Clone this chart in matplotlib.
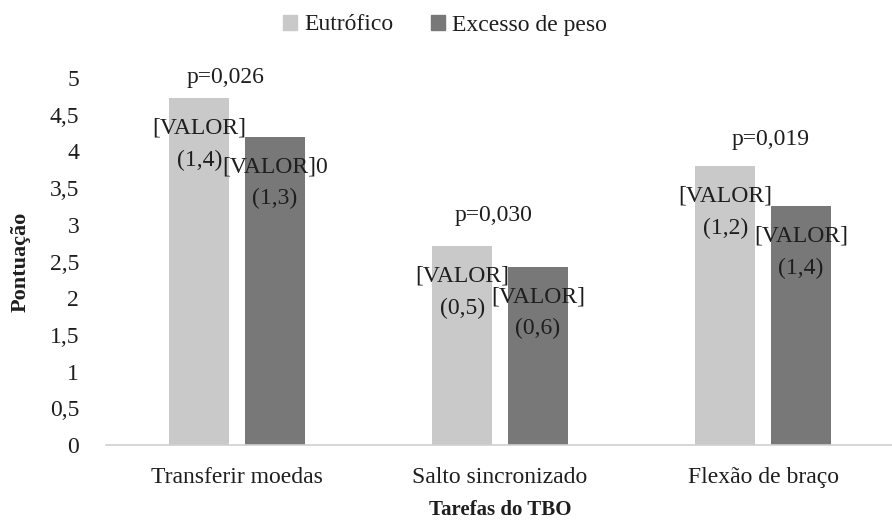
import matplotlib
matplotlib.use("Agg")
import matplotlib.pyplot as plt
import numpy as np
from matplotlib.patches import Patch

plt.rcParams['font.family'] = ['Liberation Serif', 'DejaVu Serif']

# Data
tarefas = ["Transferir moedas", "Salto sincronizado", "Flexão de braço"]
grupos = ["Eutrófico", "Excesso de peso"]
eutrofico = [4.72, 2.71, 3.80]
excesso = [4.20, 2.43, 3.25]
rotulo_eutrofico = ["[VALOR]", "[VALOR]", "[VALOR]"]
rotulo_excesso = ["[VALOR]0", "[VALOR]", "[VALOR]"]
dp_eutrofico = ["(1,4)", "(0,5)", "(1,2)"]
dp_excesso = ["(1,3)", "(0,6)", "(1,4)"]
p_valores = ["p=0,026", "p=0,030", "p=0,019"]
y_ticks = [0, 0.5, 1, 1.5, 2, 2.5, 3, 3.5, 4, 4.5, 5]

# Layout / style
cor_eut = "#c9c9c9"
cor_exc = "#787878"
cor_texto = "#1e1e1e"
largura = 0.228
desloc = 0.1435
p_pos = [(-0.042, 5.01), (0.977, 3.13), (2.03, 4.16)]

fig = plt.figure(figsize=(8.92, 5.23), dpi=100)
ax = fig.add_axes([0.1183, 0.149, 0.8847, 0.702])

x = np.arange(len(tarefas))
b1 = ax.bar(x - desloc, eutrofico, largura, color=cor_eut, zorder=2)
b2 = ax.bar(x + desloc, excesso, largura, color=cor_exc, zorder=2)

fs = 17
for bars, vals, rot, dps in [(b1, eutrofico, rotulo_eutrofico, dp_eutrofico),
                             (b2, excesso, rotulo_excesso, dp_excesso)]:
    for rect, v, r, d in zip(bars, vals, rot, dps):
        cx = rect.get_x() + rect.get_width() / 2
        ax.annotate(r, xy=(cx, v), xytext=(0, -30), textcoords="offset pixels",
                    ha="center", va="center", fontsize=fs, color=cor_texto, zorder=3)
        ax.annotate(d, xy=(cx, v), xytext=(0, -62), textcoords="offset pixels",
                    ha="center", va="center", fontsize=fs, color=cor_texto, zorder=3)

for txt, (px, py) in zip(p_valores, p_pos):
    ax.text(px, py, txt, ha="center", va="center", fontsize=fs, color=cor_texto)

ax.set_xlim(-0.5, 2.5)
ax.set_ylim(0, 5)
ax.set_yticks(y_ticks)
ax.set_yticklabels([f"{t:g}".replace(".", ",") for t in y_ticks])
ax.set_xticks(x)
ax.set_xticklabels(tarefas)
ax.tick_params(axis="both", length=0, labelsize=fs, colors=cor_texto)
ax.tick_params(axis="y", pad=19)
ax.tick_params(axis="x", pad=16)
for s in ["top", "right", "left"]:
    ax.spines[s].set_visible(False)
ax.spines["bottom"].set_color("#d0d0d0")
ax.spines["bottom"].set_linewidth(1.2)

fig.text(0.0235, 0.5, "Pontuação", rotation=90, ha="center", va="center",
         fontsize=16, fontweight="bold", color=cor_texto)
fig.text(0.5605, 0.025, "Tarefas do TBO", ha="center", va="center",
         fontsize=15, fontweight="bold", color=cor_texto)

handles = [Patch(color=cor_eut), Patch(color=cor_exc)]
fig.legend(handles, grupos, loc="center", bbox_to_anchor=(445 / 892, 1 - 25 / 523),
           ncol=2, frameon=False, fontsize=fs, handlelength=0.6, handleheight=0.6,
           handletextpad=0.3, columnspacing=1.6, labelcolor=cor_texto)

fig.savefig("out.png", dpi=100)
